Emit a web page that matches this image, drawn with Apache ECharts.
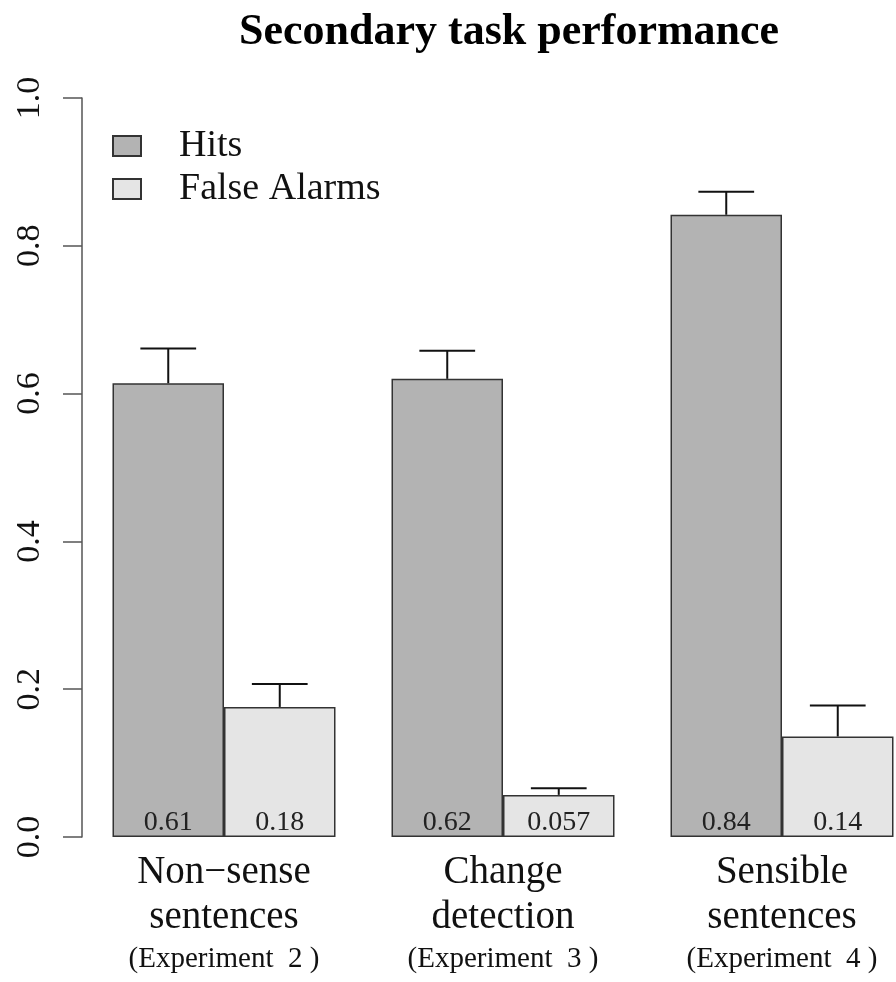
<!DOCTYPE html>
<html>
<head>
<meta charset="utf-8">
<script src="https://cdn.jsdelivr.net/npm/echarts@6/dist/echarts.min.js"></script>
<style>
  html, body { margin: 0; padding: 0; background: #fff; }
  #chart { width: 896px; height: 982px; }
</style>
</head>
<body>
<div id="chart"></div>
<script>
'use strict';

// data
var categories = ['Non\u2212sense\nsentences', 'Change\ndetection', 'Sensible\nsentences'];
var experiments = ['(Experiment  2 )', '(Experiment  3 )', '(Experiment  4 )'];
var seriesNames = ['Hits', 'False Alarms'];
var hits = [0.614, 0.62, 0.842];
var falseAlarms = [0.176, 0.057, 0.136];
var hitsUpper = [0.661, 0.658, 0.873];
var falseAlarmsUpper = [0.207, 0.066, 0.178];
var hitsLabels = ['0.61', '0.62', '0.84'];
var falseAlarmsLabels = ['0.18', '0.057', '0.14'];
var yTicks = [0, 0.2, 0.4, 0.6, 0.8, 1.0];

var serif = '"Liberation Serif", "DejaVu Serif", serif';
var barW = 111.5;

var chart = echarts.init(document.getElementById('chart'));

// 误差线数据: [类别, 柱顶, 上限, 序列]
var errData = [];
for (var i = 0; i < categories.length; i++) {
	errData.push([i, hits[i], hitsUpper[i], 0]);
	errData.push([i, falseAlarms[i], falseAlarmsUpper[i], 1]);
}

var barLabel = function(list) {
	return {
		show: true,
		position: 'insideBottom',
		distance: 0,
		color: '#222',
		fontFamily: serif,
		fontSize: 28,
		formatter: function(p) { return list[p.dataIndex]; }
	};
};

chart.setOption({
	animation: false,
	backgroundColor: '#fff',
	title: {
		text: 'Secondary task performance',
		left: 234,
		top: 6,
		textStyle: {
			fontFamily: serif,
			fontWeight: 'bold',
			fontSize: 44,
			color: '#000'
		}
	},
	legend: {
		orient: 'vertical',
		left: 107,
		top: 122,
		itemWidth: 28,
		itemHeight: 20,
		itemGap: 5,
		icon: 'rect',
		data: seriesNames,
		textStyle: {
			fontFamily: serif,
			fontSize: 38,
			color: '#111',
			padding: [0, 0, 0, 33]
		}
	},
	// categories sit on ticks (boundaryGap false) so the last group may run past the right edge
	grid: {
		left: 224,
		top: 98,
		width: 558,
		height: 739,
		containLabel: false
	},
	xAxis: {
		type: 'category',
		data: categories,
		boundaryGap: false,
		axisLine: { show: false },
		axisTick: { show: false },
		axisLabel: {
			margin: 13,
			interval: 0,
			formatter: function(v, idx) {
				var parts = v.split('\n');
				return '{m|' + parts[0] + '}\n{m|' + parts[1] + '}\n{s|' + experiments[idx] + '}';
			},
			rich: {
				m: { fontFamily: serif, fontSize: 39, lineHeight: 45, color: '#111' },
				s: { fontFamily: serif, fontSize: 29, lineHeight: 39, color: '#111' }
			}
		}
	},
	yAxis: {
		type: 'value',
		min: 0,
		max: 1,
		interval: 0.2,
		offset: 142,
		splitLine: { show: false },
		axisLine: { show: true, lineStyle: { color: '#555', width: 1.5 } },
		axisTick: { show: true, length: 19, lineStyle: { color: '#555', width: 1.5 } },
		axisLabel: {
			rotate: 90,
			margin: 35,
			fontFamily: serif,
			fontSize: 34,
			color: '#111',
			formatter: function(v) {
				var t = yTicks.filter(function(y) { return Math.abs(y - v) < 1e-9; });
				return t.length ? t[0].toFixed(1) : '';
			}
		}
	},
	series: [
		{
			name: seriesNames[0],
			type: 'bar',
			data: hits,
			barWidth: barW,
			barGap: '0%',
			clip: false,
			itemStyle: { color: '#b3b3b3', borderColor: '#333', borderWidth: 1.5 },
			label: barLabel(hitsLabels)
		},
		{
			name: seriesNames[1],
			type: 'bar',
			data: falseAlarms,
			barWidth: barW,
			barGap: '0%',
			clip: false,
			itemStyle: { color: '#e5e5e5', borderColor: '#333', borderWidth: 1.5 },
			label: barLabel(falseAlarmsLabels)
		},
		{
			type: 'custom',
			data: errData,
			z: 5,
			clip: false,
			renderItem: function(params, api) {
				var cat = api.value(0);
				var lo = api.coord([cat, api.value(1)]);
				var hi = api.coord([cat, api.value(2)]);
				var shift = (api.value(3) === 0 ? -1 : 1) * barW / 2;
				var x = lo[0] + shift;
				var cap = barW / 4;
				var style = { stroke: '#111', lineWidth: 2 };
				return {
					type: 'group',
					children: [
						{ type: 'line', shape: { x1: x, y1: lo[1], x2: x, y2: hi[1] }, style: style },
						{ type: 'line', shape: { x1: x - cap, y1: hi[1], x2: x + cap, y2: hi[1] }, style: style }
					]
				};
			}
		}
	]
});
</script>
</body>
</html>
